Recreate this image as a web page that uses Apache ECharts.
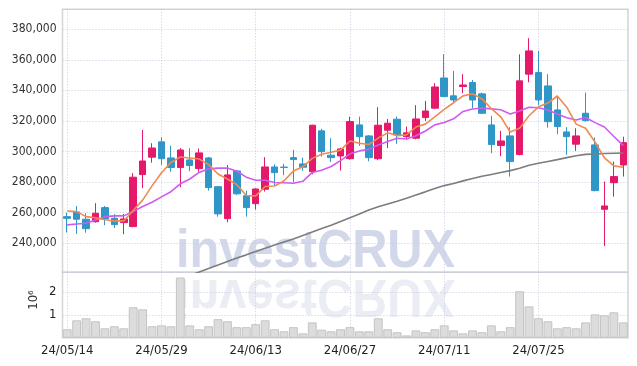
<!DOCTYPE html>
<html>
<head>
<meta charset="utf-8">
<script src="https://cdn.jsdelivr.net/npm/echarts@6/dist/echarts.min.js"></script>
<style>
html,body{margin:0;padding:0;background:#fff;}
#main{width:637px;height:366px;}
</style>
</head>
<body>
<div id="main"></div>
<script>
var dates = ['24/05/14','24/05/16','24/05/17','24/05/20','24/05/21','24/05/22','24/05/23','24/05/24','24/05/27','24/05/28',
    '24/05/29','24/05/30','24/05/31','24/06/03','24/06/04','24/06/05','24/06/07','24/06/10','24/06/11','24/06/12',
    '24/06/13','24/06/14','24/06/17','24/06/18','24/06/19','24/06/20','24/06/21','24/06/24','24/06/25','24/06/26',
    '24/06/27','24/06/28','24/07/01','24/07/02','24/07/03','24/07/04','24/07/05','24/07/08','24/07/09','24/07/10',
    '24/07/11','24/07/12','24/07/15','24/07/16','24/07/17','24/07/18','24/07/19','24/07/22','24/07/23','24/07/24',
    '24/07/25','24/07/26','24/07/29','24/07/30','24/07/31','24/08/01','24/08/02','24/08/05','24/08/06','24/08/07'];

var opens = [257400,260500,255700,254100,263300,256350,253500,250900,284900,296300,
    306300,295800,289500,294500,288800,295800,277000,256100,287300,271100,
    265900,275300,289900,289800,296000,291900,286800,313500,297600,297100,
    295300,317400,310200,295300,313900,321100,309700,308700,322200,328300,
    348100,336400,342500,345100,337700,317400,303900,310200,298000,350600,
    351600,342900,327200,312800,304800,325000,304300,262200,279600,291200];
var closes = [256300,255700,249550,259600,255900,252200,255900,283200,293800,302300,
    295300,289500,301000,290800,299100,276400,259200,284700,272300,263300,
    275500,289900,286200,289600,294700,289700,317200,299900,296000,301700,
    319600,309700,296000,317200,318500,310800,312200,321300,326500,342200,
    335900,333700,343500,333700,325000,304500,306900,293400,346200,365800,
    333700,319500,316300,309700,310200,320200,274400,264400,283600,305800];
var highs = [260000,264400,259600,266200,264400,259000,259200,285800,314100,305400,
    309300,303800,302200,302100,302000,296500,277500,291200,288000,274400,
    276000,296300,291700,291900,301000,296000,317500,314800,308700,302500,
    322800,322800,310800,329000,321300,322800,316300,330300,333100,344700,
    363600,352700,350600,346800,338500,323300,313500,315900,363600,374100,
    365800,350600,336400,315900,315200,338500,309100,280300,293400,309700];
var lows = [247000,246100,246900,253500,251800,250000,245900,250500,276000,292700,
    291200,286800,276600,287100,286800,274400,257400,253700,271500,257400,
    262000,273800,277500,284500,279900,287300,285100,296700,293200,287500,
    294700,303700,293600,294300,302300,305000,308000,308000,320000,327700,
    335500,331600,338100,328300,324600,298900,296900,283600,297500,345300,
    330500,315600,311300,297800,300400,319500,274000,238200,270500,283600];

var ma5 = [261100,260700,257400,256700,255400,254600,254600,261400,268200,277500,
    286100,292800,296400,295800,295100,291400,285300,282000,278300,271200,
    271000,277100,277400,280900,287200,290000,295500,298200,299500,300900,
    306900,305400,304600,308800,312200,310400,310900,316000,317900,322600,
    327600,331900,336400,337800,334400,328100,322700,312700,315200,323400,
    329200,331700,336300,329000,317900,315200,306200,295800,290600,289700];
var ma10 = [252000,252600,253100,255200,257400,257900,257900,260700,264000,266800,
    270300,273700,278900,282000,286300,288700,289100,289200,287100,283200,
    281200,281200,279700,279600,279200,280500,286300,287800,290200,294000,
    298500,300400,301400,304200,306600,308700,308200,310300,313400,317400,
    319000,321400,326200,327800,328500,327900,327300,324500,326500,328900,
    328600,327200,324500,322100,320600,322200,318900,316000,309800,303800];
var ma60 = [null,null,null,null,null,null,null,null,null,null,
    null,null,null,218900,221200,223500,225700,228000,230300,232400,
    234600,236700,238800,240800,242800,245000,247300,249600,251800,254200,
    256700,259200,261700,263800,265700,267500,269400,271500,273600,275800,
    277700,279100,280800,282400,283800,285000,286300,287500,289100,291000,
    292300,293500,294700,296000,297200,298100,298400,298700,298900,299000];

var volumes = [370000,760000,850000,720000,410000,500000,410000,1330000,1240000,500000,
    540000,500000,2630000,540000,370000,500000,810000,720000,460000,460000,
    590000,760000,370000,280000,460000,190000,670000,350000,280000,370000,
    460000,280000,280000,850000,370000,240000,100000,320000,240000,370000,
    540000,320000,190000,320000,240000,540000,280000,460000,2030000,1370000,
    850000,720000,410000,460000,410000,670000,1020000,980000,1110000,670000];

var candleData = [];
for (var i = 0; i < dates.length; i++) {
    candleData.push([opens[i], closes[i], lows[i], highs[i]]);
}

var labelFont = 'DejaVu Sans Condensed';
var dotLine = { show: true, interval: 9, lineStyle: { color: '#c9cbe0', type: [1, 2], width: 1 } };

var kchart = echarts.init(document.getElementById('main'));

var option = {
    animation: false,
    backgroundColor: '#fff',
    graphic: [
        {
            type: 'text',
            left: 176, top: 226,
            z: 0,
            scaleX: 0.92,
            style: {
                text: 'investCRUX',
                font: 'bold 53px "Liberation Sans"',
                fill: '#d2d7ea'
            }
        },
        {
            type: 'text',
            x: 176, y: 321,
            z: 0,
            scaleX: 0.92,
            scaleY: -1,
            style: {
                text: 'investCRUX',
                font: 'bold 53px "Liberation Sans"',
                fill: 'rgba(205,211,231,0.4)'
            }
        },
        {
            type: 'text',
            x: 34, y: 300,
            rotation: Math.PI / 2,
            style: {
                text: '10⁶',
                font: '13px "DejaVu Sans Condensed"',
                fill: '#333',
                align: 'center',
                verticalAlign: 'middle'
            }
        }
    ],
    grid: [
        { left: 62.5, right: 9, top: 9.3, height: 263, show: true, borderColor: '#d4d4d4', borderWidth: 1.5 },
        { left: 62.5, right: 9, top: 272.3, height: 65.4, show: true, borderColor: '#d4d4d4', borderWidth: 1.5 }
    ],
    xAxis: [
        {
            type: 'category',
            gridIndex: 0,
            data: dates,
            boundaryGap: true,
            axisLine: { show: false },
            axisTick: { show: false },
            axisLabel: { show: false },
            splitLine: { show: true, interval: 9, alignWithLabel: true, lineStyle: dotLine.lineStyle }
        },
        {
            type: 'category',
            gridIndex: 1,
            data: dates,
            boundaryGap: true,
            axisLine: { show: false },
            axisTick: { show: false },
            axisLabel: {
                interval: 9,
                margin: 6,
                color: '#222',
                fontSize: 13,
                fontFamily: labelFont
            },
            splitLine: { show: true, interval: 9, alignWithLabel: true, lineStyle: dotLine.lineStyle }
        }
    ],
    yAxis: [
        {
            type: 'value',
            gridIndex: 0,
            min: 221000,
            max: 393000,
            splitNumber: 8,
            minInterval: 20000,
            maxInterval: 20000,
            axisLine: { show: false },
            axisTick: { show: false },
            axisLabel: {
                showMinLabel: false,
                showMaxLabel: false,
                margin: 6,
                color: '#333',
                fontSize: 12,
                fontFamily: labelFont,
                formatter: function (v) { return v.toLocaleString('en-US'); }
            },
            splitLine: dotLine
        },
        {
            type: 'value',
            gridIndex: 1,
            min: 0,
            max: 2860000,
            interval: 1000000,
            axisLine: { show: false },
            axisTick: { show: false },
            axisLabel: {
                showMinLabel: false,
                showMaxLabel: false,
                margin: 6,
                color: '#222',
                fontSize: 13,
                fontFamily: labelFont,
                formatter: function (v) { return v / 1000000; }
            },
            splitLine: dotLine
        }
    ],
    series: [
        {
            name: 'price',
            type: 'candlestick',
            xAxisIndex: 0,
            yAxisIndex: 0,
            barWidth: 7,
            data: candleData,
            itemStyle: {
                color: '#e5196a',
                color0: '#2f96c8',
                borderColor: '#e5196a',
                borderColor0: '#2f96c8',
                borderWidth: 1
            }
        },
        {
            name: 'MA60',
            type: 'line',
            data: ma60,
            showSymbol: false,
            lineStyle: { color: '#7d7d7d', width: 1.6 },
            z: 3
        },
        {
            name: 'MA10',
            type: 'line',
            data: ma10,
            showSymbol: false,
            lineStyle: { color: '#cf5cf0', width: 1.6 },
            z: 3
        },
        {
            name: 'MA5',
            type: 'line',
            data: ma5,
            showSymbol: false,
            lineStyle: { color: '#ef8a52', width: 1.6 },
            z: 3
        },
        {
            name: 'volume',
            type: 'bar',
            xAxisIndex: 1,
            yAxisIndex: 1,
            barCategoryGap: '6%',
            data: volumes,
            itemStyle: { color: '#dcdcdc', borderColor: '#c4c4c4', borderWidth: 1 }
        }
    ]
};

kchart.setOption(option);
</script>
</body>
</html>
